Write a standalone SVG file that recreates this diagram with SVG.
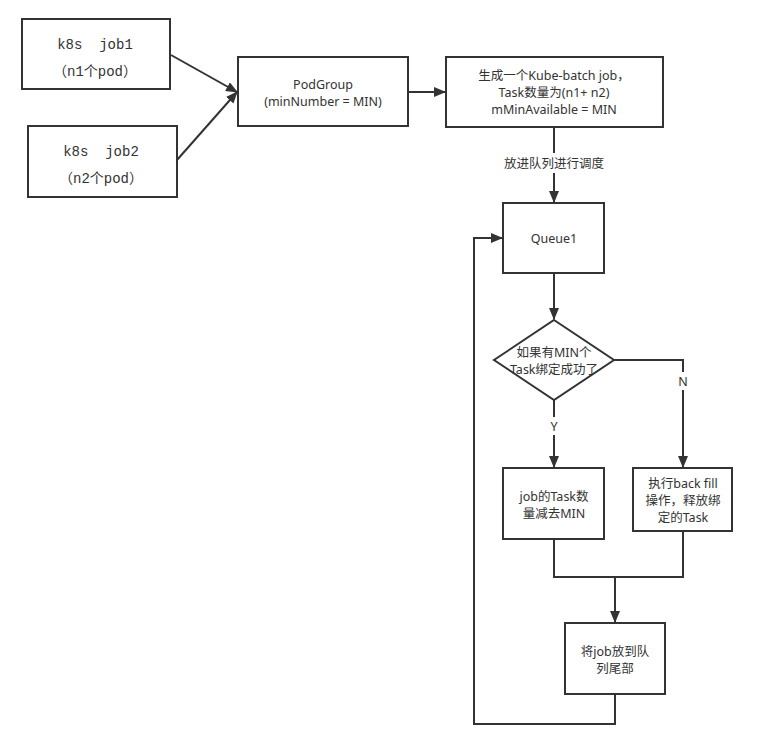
<svg xmlns="http://www.w3.org/2000/svg" width="776" height="745" viewBox="0 0 776 745">
<style>
.box{fill:#fff;stroke:#333;stroke-width:2}
.ln{fill:none;stroke:#333;stroke-width:2}
text{font-family:"Noto Sans","Noto Sans CJK SC","Microsoft YaHei",sans-serif;font-size:12.5px;fill:#333;text-anchor:middle;dominant-baseline:central}
.mono{font-family:"Liberation Mono","Noto Sans CJK SC",monospace;font-size:14px;white-space:pre}
</style>
<defs>
<marker id="ah" markerUnits="userSpaceOnUse" markerWidth="12" markerHeight="10" refX="11" refY="5" orient="auto">
<path d="M0,0 L12,5 L0,10 Z" fill="#333"/>
</marker>
</defs>
<rect width="776" height="745" fill="#fff"/>
<g id="connectors">
<line class="ln" x1="171" y1="55" x2="237" y2="92" marker-end="url(#ah)"/>
<line class="ln" x1="177" y1="160" x2="237" y2="92" marker-end="url(#ah)"/>
<line class="ln" x1="408" y1="92" x2="445" y2="92" marker-end="url(#ah)"/>
<line class="ln" x1="554" y1="127" x2="554" y2="202" marker-end="url(#ah)"/>
<rect x="498" y="153" width="112" height="20" fill="#fff"/>
<text x="554" y="163">放进队列进行调度</text>
<line class="ln" x1="554" y1="273" x2="554" y2="319" marker-end="url(#ah)"/>
<polyline class="ln" points="614,360 683,360 683,467" marker-end="url(#ah)"/>
<rect x="675" y="372" width="16" height="18" fill="#fff"/>
<text x="683" y="381">N</text>
<line class="ln" x1="554" y1="400" x2="554" y2="467" marker-end="url(#ah)"/>
<rect x="546" y="417" width="16" height="18" fill="#fff"/>
<text x="554" y="426">Y</text>
<polyline class="ln" points="554,539 554,577 683,577 683,531"/>
<line class="ln" x1="615" y1="577" x2="615" y2="622" marker-end="url(#ah)"/>
<polyline class="ln" points="615,694 615,724 474,724 474,238 502,238" marker-end="url(#ah)"/>
</g>
<g id="job1">
<rect class="box" x="22" y="19" width="148" height="70"/>
<text class="mono" x="95" y="45" xml:space="preserve">k8s  job1</text>
<text class="mono" x="95" y="72">（n1个pod）</text>
</g>
<g id="job2">
<rect class="box" x="28" y="126" width="149" height="71"/>
<text class="mono" x="101" y="152" xml:space="preserve">k8s  job2</text>
<text class="mono" x="101" y="179">（n2个pod）</text>
</g>
<g id="podgroup">
<rect class="box" x="238" y="57" width="170" height="69"/>
<text x="323" y="84">PodGroup</text>
<text x="323" y="101">(minNumber = MIN)</text>
</g>
<g id="kubebatch">
<rect class="box" x="446" y="57" width="217" height="70"/>
<text x="554" y="75">生成一个Kube-batch job，</text>
<text x="554" y="92">Task数量为(n1+ n2)</text>
<text x="554" y="109">mMinAvailable = MIN</text>
</g>
<g id="queue1">
<rect class="box" x="503" y="203" width="101" height="70"/>
<text x="554" y="238">Queue1</text>
</g>
<g id="decision">
<polygon class="box" points="554,320 614,360 554,400 494,360"/>
<text x="554" y="352">如果有MIN个</text>
<text x="554" y="369">Task绑定成功了</text>
</g>
<g id="reduce">
<rect class="box" x="503" y="468" width="101" height="71"/>
<text x="554" y="496">job的Task数</text>
<text x="554" y="513">量减去MIN</text>
</g>
<g id="backfill">
<rect class="box" x="633" y="468" width="99" height="63"/>
<text x="683" y="483">执行back fill</text>
<text x="683" y="500">操作，释放绑</text>
<text x="683" y="517">定的Task</text>
</g>
<g id="requeue">
<rect class="box" x="565" y="623" width="100" height="71"/>
<text x="615" y="651">将job放到队</text>
<text x="615" y="668">列尾部</text>
</g>
</svg>
